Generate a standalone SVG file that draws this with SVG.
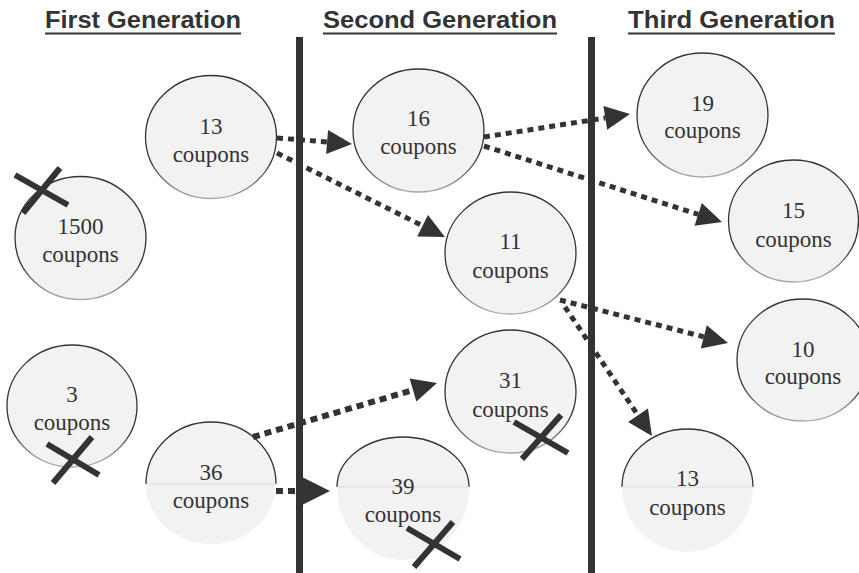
<svg xmlns="http://www.w3.org/2000/svg" width="859" height="573" viewBox="0 0 859 573">
<style>
.hd{font-family:"Liberation Sans",Arial,sans-serif;font-weight:bold;font-size:24px;fill:#333}
.ul{stroke:#333;stroke-width:2}
.sep{stroke:#333;stroke-width:7}
.node{fill:#f2f2f2;stroke:url(#rim);stroke-width:1.3}
.half{fill:#f2f2f2;stroke:none}
.arc{fill:none;stroke:#333;stroke-width:1.3}
.mid{stroke:#dcdcdc;stroke-width:1}
.lbl{font-family:"Liberation Serif","Times New Roman",serif;font-size:23px;fill:#333;text-anchor:middle}
.cx{stroke:#333;stroke-width:6;stroke-linecap:butt}
.c1{fill:none;stroke:#333;stroke-width:5;stroke-dasharray:6 5;marker-end:url(#ah)}
.c2{fill:none;stroke:#333;stroke-width:6;stroke-dasharray:7 5}
</style>
<defs>
<linearGradient id="rim" x1="0" y1="0" x2="0" y2="1">
<stop offset="0" stop-color="#333"/>
<stop offset="0.7" stop-color="#333"/>
<stop offset="1" stop-color="#aaa"/>
</linearGradient>
<marker id="ah" markerUnits="userSpaceOnUse" markerWidth="25" markerHeight="24" refX="0" refY="12" orient="auto" overflow="visible">
<path d="M0,0 L25,12 L0,24 Z" fill="#333"/>
</marker>
<marker id="ahb" markerUnits="userSpaceOnUse" markerWidth="28" markerHeight="28" refX="0" refY="14" orient="auto" overflow="visible">
<path d="M0,0 L28,14 L0,28 Z" fill="#333"/>
</marker>
</defs>

<g id="headers">
<text class="hd" x="45" y="28" textLength="196" lengthAdjust="spacingAndGlyphs">First Generation</text>
<line class="ul" x1="45" y1="33.5" x2="241" y2="33.5"/>
<text class="hd" x="323" y="28" textLength="234" lengthAdjust="spacingAndGlyphs">Second Generation</text>
<line class="ul" x1="323" y1="33.5" x2="557" y2="33.5"/>
<text class="hd" x="628" y="28" textLength="207" lengthAdjust="spacingAndGlyphs">Third Generation</text>
<line class="ul" x1="628" y1="33.5" x2="835" y2="33.5"/>
</g>

<g id="separators">
<line class="sep" x1="299.5" y1="37" x2="299.5" y2="573"/>
<line class="sep" x1="591.5" y1="37" x2="591.5" y2="573"/>
</g>

<g id="n1500">
<ellipse class="node" cx="80.5" cy="238" rx="65.5" ry="61.5"/>
<text class="lbl" x="80.5" y="234">1500</text>
<text class="lbl" x="80.5" y="262">coupons</text>
</g>
<g id="n13a">
<ellipse class="node" cx="211" cy="137" rx="65.5" ry="61.5"/>
<text class="lbl" x="211" y="134">13</text>
<text class="lbl" x="211" y="162">coupons</text>
</g>
<g id="n3">
<ellipse class="node" cx="72" cy="406" rx="65" ry="61"/>
<text class="lbl" x="72" y="402">3</text>
<text class="lbl" x="72" y="430">coupons</text>
</g>
<g id="n36">
<path class="half" d="M146,484 A65,62 0 0 1 276,484 A65,60 0 0 1 146,484 Z"/>
<path class="arc" d="M146,484 A65,62 0 0 1 276,484"/>
<line class="mid" x1="146" y1="484" x2="276" y2="484"/>
<text class="lbl" x="211" y="480">36</text>
<text class="lbl" x="211" y="508">coupons</text>
</g>
<g id="n16">
<ellipse class="node" cx="418.5" cy="130.5" rx="65.5" ry="61.5"/>
<text class="lbl" x="418.5" y="126">16</text>
<text class="lbl" x="418.5" y="154">coupons</text>
</g>
<g id="n11">
<ellipse class="node" cx="510.5" cy="253" rx="65.5" ry="61"/>
<text class="lbl" x="510.5" y="249">11</text>
<text class="lbl" x="510.5" y="278">coupons</text>
</g>
<g id="n31">
<ellipse class="node" cx="510.5" cy="391.5" rx="65.5" ry="61.5"/>
<text class="lbl" x="510.5" y="388">31</text>
<text class="lbl" x="510.5" y="417">coupons</text>
</g>
<g id="n39">
<path class="half" d="M337,487 A66,50 0 0 1 469,487 A66,73 0 0 1 337,487 Z"/>
<path class="arc" d="M337,487 A66,50 0 0 1 469,487"/>
<line class="mid" x1="337" y1="487" x2="469" y2="487"/>
<text class="lbl" x="403" y="494">39</text>
<text class="lbl" x="403" y="522">coupons</text>
</g>
<g id="n19">
<ellipse class="node" cx="702.5" cy="115" rx="65.5" ry="62"/>
<text class="lbl" x="702.5" y="111">19</text>
<text class="lbl" x="702.5" y="138">coupons</text>
</g>
<g id="n15">
<ellipse class="node" cx="793.5" cy="221" rx="65" ry="61"/>
<text class="lbl" x="793.5" y="218">15</text>
<text class="lbl" x="793.5" y="247">coupons</text>
</g>
<g id="n10">
<ellipse class="node" cx="803" cy="360" rx="66" ry="61"/>
<text class="lbl" x="803" y="357">10</text>
<text class="lbl" x="803" y="384">coupons</text>
</g>
<g id="n13b">
<path class="half" d="M622,487 A65.5,58 0 0 1 753,487 A65.5,65 0 0 1 622,487 Z"/>
<path class="arc" d="M622,487 A65.5,58 0 0 1 753,487"/>
<line class="mid" x1="622" y1="487" x2="753" y2="487"/>
<text class="lbl" x="687.5" y="486">13</text>
<text class="lbl" x="687.5" y="515">coupons</text>
</g>

<g id="connectors">
<path class="c1" d="M277,138 L327.1,142"/>
<path class="c1" d="M277,153 L422.6,225.8"/>
<path class="c1" d="M484,137 L605.3,117.9"/>
<path class="c1" d="M484,146 L698.2,214.4"/>
<path class="c1" d="M560,300 L703.8,336.8"/>
<path class="c1" d="M565,307 L638,415.3"/>
<path class="c2" d="M253,437 L413,390" marker-end="url(#ah)"/>
<path class="c2" d="M276,491 L302,491" marker-end="url(#ahb)"/>
</g>

<g id="crosses">
<line class="cx" x1="15" y1="175" x2="68" y2="205"/>
<line class="cx" x1="60" y1="168" x2="23" y2="213"/>
<line class="cx" x1="47" y1="444" x2="99" y2="475"/>
<line class="cx" x1="92" y1="437" x2="53" y2="483"/>
<line class="cx" x1="514" y1="422" x2="568" y2="453"/>
<line class="cx" x1="561" y1="415" x2="522" y2="459"/>
<line class="cx" x1="407" y1="528" x2="460" y2="559"/>
<line class="cx" x1="453" y1="522" x2="414" y2="567"/>
</g>
</svg>
